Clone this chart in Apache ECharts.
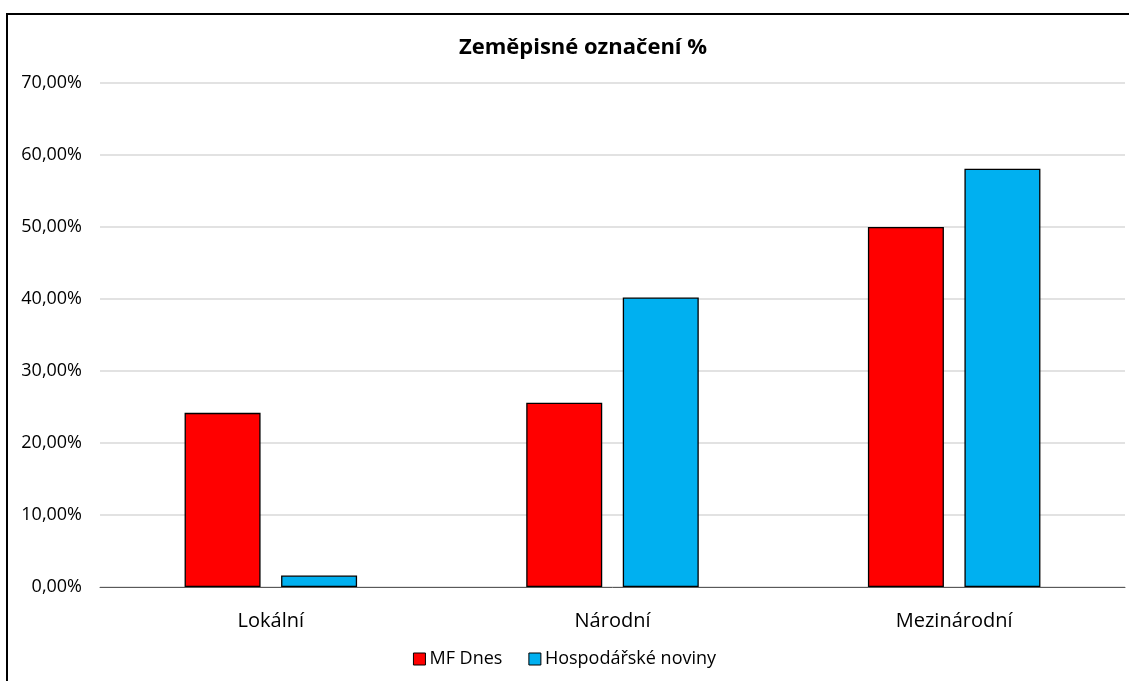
<html lang="cs">
    <head>
        <meta charset="UTF-8">
        <title>Zeměpisné označení %</title>
        <script src="https://cdn.jsdelivr.net/npm/echarts@6/dist/echarts.min.js"></script>
        <style>
            body { margin: 0; background: #fff; }
        </style>
    </head>
    <body>
        <div id="chart_1" style="width:1129px; height:681px;"></div>
        <script>
            // data (percent)
            var categories = ['Lokální', 'Národní', 'Mezinárodní'];
            var mfDnes = [24.19, 25.58, 50.0];
            var hospodarske = [1.6, 40.2, 58.1];

            let myChart = echarts.init(document.getElementById("chart_1"));
            var font = '"Open Sans", "Noto Sans", sans-serif';

            var option = {
                animation: false,
                textStyle: { fontFamily: font },
                title: {
                    text: 'Zeměpisné označení %',
                    left: 578,
                    textAlign: 'center',
                    top: 32,
                    textStyle: { fontSize: 22, fontWeight: 'bold', color: '#000', fontFamily: font }
                },
                graphic: [{
                    type: 'rect',
                    shape: { x: 7, y: 14, width: 1200, height: 720 },
                    style: { fill: 'none', stroke: '#000', lineWidth: 2 },
                    silent: true
                }],
                legend: {
                    bottom: 8,
                    left: 'center',
                    icon: 'rect',
                    itemWidth: 12,
                    itemHeight: 12,
                    itemGap: 26,
                    itemStyle: { borderColor: '#000', borderWidth: 1 },
                    textStyle: { fontSize: 18, color: '#000', fontFamily: font, padding: [0, 0, 0, -1] },
                    data: ['MF Dnes', 'Hospodářské noviny']
                },
                grid: {
                    left: 100,
                    right: 4,
                    top: 83,
                    bottom: 94,
                    containLabel: false
                },
                xAxis: {
                    type: 'category',
                    data: categories,
                    axisTick: { show: false },
                    axisLine: { lineStyle: { color: '#595959', width: 1 } },
                    axisLabel: { fontSize: 20, color: '#000', margin: 24, fontFamily: font }
                },
                yAxis: {
                    type: 'value',
                    min: 0,
                    max: 70,
                    interval: 10,
                    axisLine: { show: false },
                    axisTick: { show: false },
                    axisLabel: {
                        fontSize: 18,
                        color: '#000',
                        margin: 18,
                        fontFamily: font,
                        formatter: function (v) { return v.toFixed(2).replace('.', ',') + '%'; }
                    },
                    splitLine: { lineStyle: { color: '#d9d9d9', width: 1.5 } }
                },
                series: [{
                    name: 'MF Dnes',
                    type: 'bar',
                    data: mfDnes,
                    barWidth: 76,
                    barGap: '27%',
                    itemStyle: { color: '#ff0000', borderColor: '#000', borderWidth: 1.3 }
                }, {
                    name: 'Hospodářské noviny',
                    type: 'bar',
                    data: hospodarske,
                    barWidth: 76,
                    itemStyle: { color: '#00b0f0', borderColor: '#000', borderWidth: 1.3 }
                }]
            };

            myChart.setOption(option);
        </script>
    </body>
</html>
